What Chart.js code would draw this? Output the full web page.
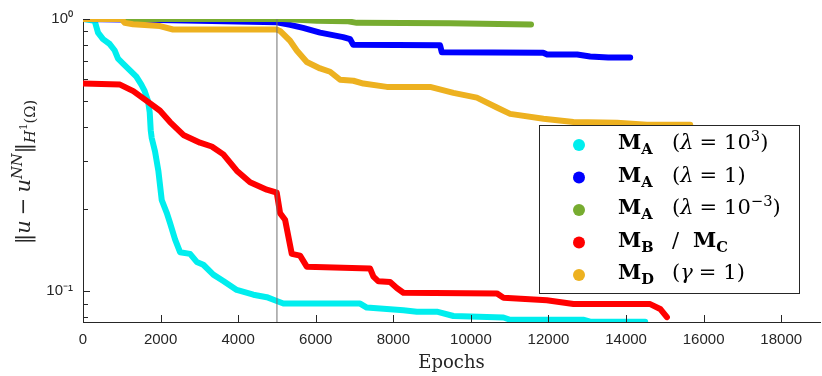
<!DOCTYPE html>
<html>
<head>
<meta charset="utf-8">
<script src="https://cdn.jsdelivr.net/npm/chart.js@4/dist/chart.umd.min.js"></script>
<style>
  html, body { margin: 0; padding: 0; background: #fff; }
  #grafico { display: block; }
</style>
</head>
<body>
<canvas id="grafico" width="822" height="376"></canvas>
<script>

// M_A (lambda = 10^3)
const cianEpocas = [0, 300, 387, 516, 689, 818, 903, 1032, 1204, 1375, 1504, 1591, 1676, 1720, 1746, 1772, 1857, 1942, 2030, 2159, 2244, 2373, 2502, 2760, 2932, 3102, 3360, 3618, 3964, 4392, 4738, 4995, 5166, 7144, 7316, 8260, 8606, 9122, 9550, 10840, 11012, 12894, 13075, 14493];
const cianError = [1.0, 0.985, 0.891, 0.843, 0.809, 0.766, 0.715, 0.686, 0.649, 0.614, 0.574, 0.543, 0.500, 0.454, 0.390, 0.365, 0.326, 0.277, 0.216, 0.194, 0.178, 0.155, 0.139, 0.137, 0.128, 0.125, 0.115, 0.109, 0.101, 0.097, 0.095, 0.092, 0.090, 0.090, 0.087, 0.085, 0.084, 0.084, 0.081, 0.080, 0.0785, 0.0785, 0.0772, 0.0772];

// M_A (lambda = 1)
const azulEpocas = [0, 1986, 4995, 5338, 5673, 6112, 6705, 6886, 6963, 9206, 9250, 11863, 11966, 12740, 13075, 13539, 14106];
const azulError = [1.0, 0.992, 0.972, 0.952, 0.928, 0.891, 0.858, 0.843, 0.805, 0.800, 0.755, 0.752, 0.740, 0.740, 0.728, 0.722, 0.722];

// M_A (lambda = 10^-3)
const verdeEpocas = [0, 5158, 6027, 6800, 7058, 9465, 11550];
const verdeError = [1.0, 1.0, 0.986, 0.982, 0.968, 0.965, 0.954];

// M_B / M_C
const rojoEpocas = [0, 954, 1297, 1643, 1986, 2244, 2587, 3017, 3319, 3618, 3964, 4307, 4738, 4995, 5080, 5209, 5382, 5596, 5769, 7402, 7487, 7616, 7917, 8090, 8260, 10669, 10840, 11958, 12645, 14622, 14880, 15053];
const rojoError = [0.579, 0.574, 0.543, 0.500, 0.460, 0.418, 0.375, 0.351, 0.340, 0.318, 0.277, 0.251, 0.236, 0.230, 0.1935, 0.183, 0.137, 0.135, 0.123, 0.121, 0.113, 0.1086, 0.108, 0.1027, 0.0986, 0.0981, 0.0946, 0.0926, 0.0896, 0.0896, 0.086, 0.0802];

// M_D (gamma = 1)
const naranjaEpocas = [0, 988, 1075, 1290, 1986, 2321, 4990, 5080, 5338, 5511, 5769, 6112, 6370, 6628, 6971, 7229, 7832, 8949, 9550, 10153, 10669, 11012, 11871, 12645, 13764, 14538, 15654];
const naranjaError = [1.0, 1.0, 0.968, 0.956, 0.942, 0.915, 0.915, 0.904, 0.832, 0.766, 0.695, 0.658, 0.640, 0.598, 0.593, 0.579, 0.563, 0.563, 0.535, 0.514, 0.473, 0.448, 0.430, 0.418, 0.416, 0.409, 0.409];

// linea vertical en 5000 epocas
const corteEpocas = [5000, 5000];
const corteError = [0.077, 1];

const ticksX = [0, 2000, 4000, 6000, 8000, 10000, 12000, 14000, 16000, 18000];
const ticksYMayores = [0.1, 1];
const ticksYMenores = [0.08, 0.09, 0.2, 0.3, 0.4, 0.5, 0.6, 0.7, 0.8, 0.9];

const colores = ["#00eeee", "#0000ff", "#77ac30", "#ff0000", "#edb120"];

const fuenteSerif = '"DejaVu Serif", serif';
const fuenteSans = '"Liberation Sans", Arial, sans-serif';

function puntos(xs, ys) {
    return xs.map((x, i) => ({ x: x, y: ys[i] }));
}

function serie(xs, ys, color, orden) {
    return {
        data: puntos(xs, ys),
        borderColor: color,
        backgroundColor: color,
        borderWidth: 6,
        borderCapStyle: "round",
        borderJoinStyle: "round",
        pointRadius: 0,
        order: orden
    };
}

// texto con subindices / superindices
function dibujarPiezas(ctx, piezas, x, y, tam, medir) {
    ctx.textBaseline = "alphabetic";
    ctx.textAlign = "left";
    piezas.forEach(p => {
        if (p.x !== undefined) x = p.x;
        let size = tam, dy = 0;
        if (p.sub) { size = tam * 0.7; dy = tam * 0.24; }
        if (p.sup) { size = tam * 0.7; dy = -tam * 0.4; }
        if (p.subsup) { size = tam * 0.5; dy = -tam * 0.12; }
        ctx.font = (p.i ? "italic " : "") + (p.b ? "bold " : "") + size + "px " + fuenteSerif;
        if (!medir) ctx.fillText(p.t, x, y + dy);
        x += ctx.measureText(p.t).width + (p.gap || 0);
    });
    return x;
}

const leyendaTextos = [
    [{ t: "M", b: 1 }, { t: "A", b: 1, sub: 1 }, { t: "(", x: 672 }, { t: "λ", i: 1, gap: 6 }, { t: "=", gap: 7 }, { t: "10" }, { t: "3", sup: 1 }, { t: ")" }],
    [{ t: "M", b: 1 }, { t: "A", b: 1, sub: 1 }, { t: "(", x: 672 }, { t: "λ", i: 1, gap: 6 }, { t: "=", gap: 7 }, { t: "1" }, { t: ")" }],
    [{ t: "M", b: 1 }, { t: "A", b: 1, sub: 1 }, { t: "(", x: 672 }, { t: "λ", i: 1, gap: 6 }, { t: "=", gap: 7 }, { t: "10" }, { t: "−3", sup: 1 }, { t: ")" }],
    [{ t: "M", b: 1 }, { t: "B", b: 1, sub: 1 }, { t: "/", x: 672 }, { t: "M", b: 1, x: 693 }, { t: "C", b: 1, sub: 1 }],
    [{ t: "M", b: 1 }, { t: "D", b: 1, sub: 1 }, { t: "(", x: 672 }, { t: "γ", i: 1, gap: 6 }, { t: "=", gap: 7 }, { t: "1" }, { t: ")" }]
];

const tituloY = [
    { t: "‖" }, { t: "u", i: 1, gap: 5 }, { t: "−", gap: 5 }, { t: "u", i: 1 },
    { t: "NN", i: 1, sup: 1 }, { t: "‖" }, { t: "H", i: 1, sub: 1 }, { t: "1", subsup: 1 }, { t: "(Ω)", sub: 1 }
];

const extras = {
    id: "extras",
    afterDraw(chart) {
        const ctx = chart.ctx;
        const xs = chart.scales.x, ys = chart.scales.y;
        const area = chart.chartArea;

        ctx.save();
        ctx.strokeStyle = "#262626";
        ctx.lineWidth = 1;
        ctx.beginPath();
        ticksX.forEach(v => {
            const px = Math.round(xs.getPixelForValue(v)) + 0.5;
            ctx.moveTo(px, area.bottom);
            ctx.lineTo(px, area.bottom - 7);
        });
        ticksYMayores.forEach(v => {
            const py = Math.round(ys.getPixelForValue(v)) + 0.5;
            ctx.moveTo(area.left, py);
            ctx.lineTo(area.left + 7, py);
        });
        ticksYMenores.forEach(v => {
            const py = Math.round(ys.getPixelForValue(v)) + 0.5;
            ctx.moveTo(area.left, py);
            ctx.lineTo(area.left + 5, py);
        });
        ctx.stroke();

        // leyenda
        ctx.fillStyle = "#fff";
        ctx.fillRect(539.5, 125.5, 260, 168);
        ctx.strokeRect(539.5, 125.5, 260, 168);
        leyendaTextos.forEach((piezas, i) => {
            const y = 145 + i * 32.5;
            ctx.fillStyle = colores[i];
            ctx.beginPath();
            ctx.arc(579, y, 6, 0, Math.PI * 2);
            ctx.fill();
            ctx.fillStyle = "#000";
            dibujarPiezas(ctx, piezas, 618, y + 4, 21);
        });

        // titulo eje y
        ctx.fillStyle = "#262626";
        ctx.save();
        ctx.translate(30, 172);
        ctx.rotate(-Math.PI / 2);
        const ancho = dibujarPiezas(ctx, tituloY, 0, 0, 21, true);
        dibujarPiezas(ctx, tituloY, -ancho / 2, 0, 21);
        ctx.restore();

        ctx.restore();
    }
};

new Chart(document.getElementById("grafico"), {
    type: "line",
    data: {
        datasets: [
            Object.assign(serie(corteEpocas, corteError, "#707070", 0), { borderWidth: 1, borderCapStyle: "butt" }),
            serie(cianEpocas, cianError, colores[0], 5),
            serie(azulEpocas, azulError, colores[1], 4),
            serie(verdeEpocas, verdeError, colores[2], 3),
            serie(rojoEpocas, rojoError, colores[3], 2),
            serie(naranjaEpocas, naranjaError, colores[4], 1)
        ]
    },
    options: {
        responsive: false,
        animation: false,
        layout: { padding: { top: 11, right: 2, left: 0, bottom: 0 } },
        plugins: {
            legend: { display: false },
            tooltip: { enabled: false }
        },
        scales: {
            x: {
                type: "linear",
                min: 0,
                max: 19000,
                grid: { display: false, drawTicks: false },
                border: { display: true, color: "#262626", width: 1 },
                ticks: {
                    maxRotation: 0,
                    autoSkip: false,
                    padding: 9,
                    color: "#262626",
                    font: { family: fuenteSans, size: 15 },
                    callback: v => String(v)
                },
                afterBuildTicks(escala) {
                    escala.ticks = ticksX.map(v => ({ value: v }));
                },
                title: {
                    display: true,
                    text: "Epochs",
                    color: "#262626",
                    font: { family: fuenteSerif, size: 18 },
                    padding: { top: 0, bottom: 2 }
                },
                afterFit(escala) { escala.height = 54; }
            },
            y: {
                type: "logarithmic",
                min: 0.077,
                max: 1,
                grid: { display: false, drawTicks: false },
                border: { display: true, color: "#262626", width: 1 },
                ticks: {
                    autoSkip: false,
                    padding: 10,
                    color: "#262626",
                    font: { family: fuenteSans, size: 15 },
                    callback: function (v) {
                        if (Math.abs(v - 1) < 1e-9) return "10⁰";
                        if (Math.abs(v - 0.1) < 1e-9) return "10⁻¹";
                        return "";
                    }
                },
                afterFit(escala) { escala.width = 83; }
            }
        }
    },
    plugins: [extras]
});

</script>
</body>
</html>
